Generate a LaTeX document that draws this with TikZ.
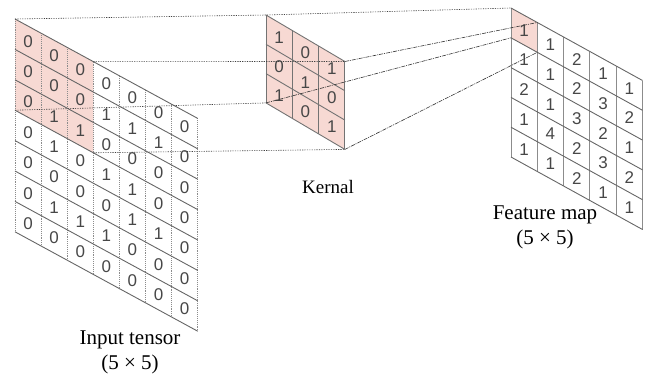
\documentclass[tikz,border=0pt]{standalone}
\usepackage{fontspec}
\setmainfont{Liberation Serif}
\newfontfamily\cellfont{Liberation Sans}

\definecolor{cellpink}{HTML}{F7D9D3}
\definecolor{gridgray}{HTML}{8C8C8C}

\tikzset{
  cellval/.style={font=\cellfont\fontsize{17}{17}\selectfont, text=black!72, inner sep=0pt},
  gridline/.style={draw=gridgray, line width=0.9pt},
  colline/.style={gridline, densely dotted},
  guide/.style={black!75, line width=0.6pt, dash pattern=on 1.2pt off 1.2pt},
  ray/.style={black!80, line width=0.6pt, dash pattern=on 4pt off 1pt on 1pt off 1pt},
  caption/.style={font=\fontsize{21}{25}\selectfont, align=center, inner sep=0pt},
}

\begin{document}
\begin{tikzpicture}[x=1pt,y=-1pt]
  \useasboundingbox (0,0) rectangle (646,381);

  %% input tensor, zero padded
  \begin{scope}[cm={26.1,-14.2,0,30.4,(15,19)}]
    \fill[cellpink] (0,0) -- (3,0) -- (3,3) -- (0,3) -- cycle;
    \foreach \i in {0,...,7} \draw[colline] (\i,0) -- (\i,7);
    \foreach \j in {0,...,7} \draw[gridline, draw=black!60] (0,\j) -- (7,\j);
    \foreach \col/\vals in {0/{0,0,0,0,0,0,0}, 1/{0,0,1,1,0,1,0},
        2/{0,0,1,0,0,1,0}, 3/{0,1,0,1,0,1,0}, 4/{0,1,0,1,1,0,0},
        5/{0,1,0,0,1,0,0}, 6/{0,0,0,0,0,0,0}}
      \foreach \v [count=\r from 0] in \vals
        \node[cellval] (in-\col-\r) at (\col+.5,\r+.5) {\v};
    \coordinate (in-nw) at (0,0);
    \coordinate (in-kne) at (3,0);
    \coordinate (in-ksw) at (0,3);
    \coordinate (in-kse) at (3,3);
  \end{scope}

  %% kernel
  \begin{scope}[cm={26.3,-15.5,0,29.3,(266,15)}]
    \fill[cellpink] (0,0) -- (3,0) -- (3,3) -- (0,3) -- cycle;
    \foreach \i in {0,...,3} \draw[gridline, draw=black!55] (\i,0) -- (\i,3);
    \foreach \j in {0,...,3} \draw[gridline, draw=black!55] (0,\j) -- (3,\j);
    \foreach \col/\vals in {0/{1,0,1}, 1/{0,1,0}, 2/{1,0,1}}
      \foreach \v [count=\r from 0] in \vals
        \node[cellval] (ker-\col-\r) at (\col+.5,\r+.5) {\v};
    \coordinate (ker-nw) at (0,0);
    \coordinate (ker-ne) at (3,0);
    \coordinate (ker-sw) at (0,3);
    \coordinate (ker-se) at (3,3);
  \end{scope}

  %% feature map
  \begin{scope}[cm={26.3,-14.5,0,29.8,(511,8)}]
    \fill[cellpink] (0,0) -- (1,0) -- (1,1) -- (0,1) -- cycle;
    \foreach \i in {0,...,5} \draw[gridline] (\i,0) -- (\i,5);
    \foreach \j in {0,...,5} \draw[gridline, draw=black!60] (0,\j) -- (5,\j);
    \foreach \col/\vals in {0/{1,1,2,1,1}, 1/{1,1,1,4,1}, 2/{2,2,3,2,2},
        3/{1,3,2,3,1}, 4/{1,2,1,2,1}}
      \foreach \v [count=\r from 0] in \vals
        \node[cellval] (fm-\col-\r) at (\col+.5,\r+.5) {\v};
    \coordinate (fm-nw) at (0,0);
    \coordinate (fm-ne) at (1,0);
    \coordinate (fm-sw) at (0,1);
    \coordinate (fm-se) at (1,1);
  \end{scope}

  %% window -> kernel
  \draw[guide] (in-nw) -- (ker-nw) -- (fm-nw);
  \draw[guide] (in-kne) -- (ker-ne);
  \draw[guide] (in-ksw) -- (ker-sw);
  \draw[guide] (in-kse) -- (ker-se);

  %% kernel -> output cell
  \draw[ray] (ker-ne) -- (fm-ne);
  \draw[ray] (ker-sw) -- (fm-sw);
  \draw[ray] (ker-se) -- (fm-se);

  %% labels
  \node[caption] (in-label) at (130,352.5) {Input tensor\\(5 × 5)};
  \node[caption, font=\fontsize{19}{22}\selectfont] (ker-label) at (328,187) {Kernal};
  \node[caption] (fm-label) at (545,227) {Feature map\\(5 × 5)};
\end{tikzpicture}
\end{document}
